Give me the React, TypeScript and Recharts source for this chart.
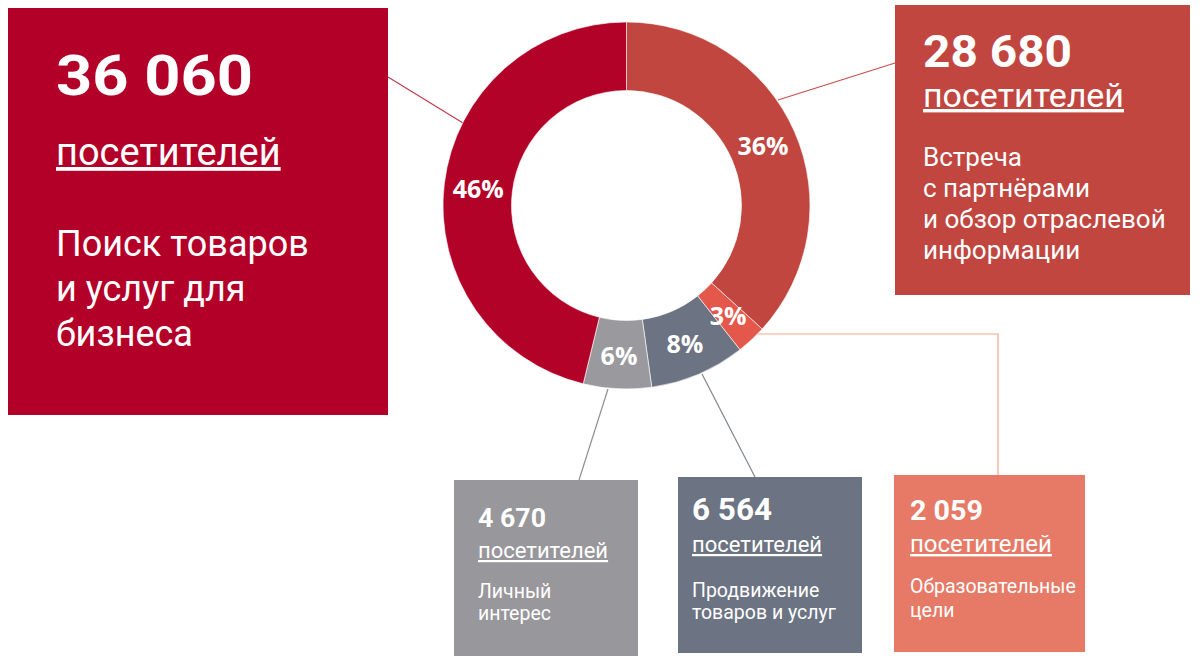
import React from 'react';
import { PieChart, Pie, Cell, Customized } from 'recharts';

// ---- data ----
const CATEGORIES = [
  'Встреча с партнёрами и обзор отраслевой информации',
  'Образовательные цели',
  'Продвижение товаров и услуг',
  'Личный интерес',
  'Поиск товаров и услуг для бизнеса',
];
const VISITORS = [28680, 2059, 6564, 4670, 36060];
const PERCENT_LABELS = ['36%', '3%', '8%', '6%', '46%'];
const UNIT = 'посетителей';
const DESCRIPTION_LINES = [
  ['Встреча', 'с партнёрами', 'и обзор отраслевой', 'информации'],
  ['Образовательные', 'цели'],
  ['Продвижение', 'товаров и услуг'],
  ['Личный', 'интерес'],
  ['Поиск товаров', 'и услуг для', 'бизнеса'],
];
const SLICE_COLORS = ['#c0463f', '#e4574b', '#6c7383', '#9a999e', '#b30228'];

const data = CATEGORIES.map((name, i) => ({ name, value: VISITORS[i], label: PERCENT_LABELS[i] }));

const fmt = (v: number) => String(v).replace(/\B(?=(\d{3})+(?!\d))/g, ' ');

// ---- layout of annotation boxes (same index order as data) ----
const BOXES = [
  { x: 895, y: 5, w: 295, h: 290, fill: '#c0463f', tx: 923, numY: 67, numSize: 45, numLen: 149, unitY: 107, unitSize: 34, descY: 166, descSize: 26, descLH: 31 },
  { x: 894, y: 475, w: 191, h: 177, fill: '#e67a66', tx: 910, numY: 520, numSize: 27, numLen: 73, unitY: 552, unitSize: 24, descY: 593, descSize: 19.5, descLH: 24 },
  { x: 678, y: 477, w: 184, h: 176, fill: '#6c7382', tx: 692, numY: 520, numSize: 31, numLen: 80, unitY: 552, unitSize: 22, descY: 597, descSize: 19.5, descLH: 22 },
  { x: 454, y: 480, w: 184, h: 176, fill: '#98979b', tx: 478, numY: 527, numSize: 26, numLen: 68, unitY: 558, unitSize: 22, descY: 598, descSize: 19.5, descLH: 22 },
  { x: 8, y: 8, w: 380, h: 407, fill: '#b30028', tx: 56, numY: 95, numSize: 56, numLen: 197, unitY: 165, unitSize: 38, descY: 256, descSize: 36, descLH: 45 },
];

const CONNECTORS = [
  { points: '778,100 895,63', stroke: '#c7504a' },
  { points: '757,334 998,334 998,475', stroke: '#f5a58a' },
  { points: '702,374 755,477', stroke: '#80848e' },
  { points: '608,389 579,480', stroke: '#8e8e94' },
  { points: '388,77 463,123', stroke: '#c23b4f' },
];

const FONT = 'Roboto, "Noto Sans", sans-serif';

const Annotations = () => (
  <g>
    {CONNECTORS.map((c, i) => (
      <polyline key={`c${i}`} points={c.points} fill="none" stroke={c.stroke} strokeWidth={1.2} />
    ))}
    {BOXES.map((b, i) => (
      <g key={`b${i}`} fontFamily={FONT} fill="#ffffff">
        <rect x={b.x} y={b.y} width={b.w} height={b.h} fill={b.fill} />
        <text x={b.tx} y={b.numY} fontSize={b.numSize} fontWeight={700} textLength={b.numLen} lengthAdjust="spacingAndGlyphs">
          {fmt(VISITORS[i])}
        </text>
        <text x={b.tx} y={b.unitY} fontSize={b.unitSize} style={{ textDecoration: 'underline' }}>
          {UNIT}
        </text>
        {DESCRIPTION_LINES[i].map((line, j) => (
          <text key={j} x={b.tx} y={b.descY + j * b.descLH} fontSize={b.descSize}>
            {line}
          </text>
        ))}
      </g>
    ))}
  </g>
);

const RAD = Math.PI / 180;
const renderLabel = (props: any) => {
  const { cx, cy, midAngle, innerRadius, outerRadius, index } = props;
  const r = (innerRadius + outerRadius) / 2;
  const x = cx + r * Math.cos(-midAngle * RAD);
  const y = cy + r * Math.sin(-midAngle * RAD);
  return (
    <text
      x={x}
      y={y}
      fill="#ffffff"
      textAnchor="middle"
      dominantBaseline="central"
      fontFamily='"Open Sans", sans-serif'
      fontWeight={700}
      fontSize={25}
    >
      {PERCENT_LABELS[index]}
    </text>
  );
};

export default function App() {
  return (
    <div style={{ position: 'absolute', left: 0, top: 0, width: 1200, height: 660, background: '#ffffff' }}>
      <PieChart width={1200} height={660} margin={{ top: 0, right: 0, bottom: 0, left: 0 }}>
        <Customized component={Annotations} />
        <Pie
          data={data}
          dataKey="value"
          nameKey="name"
          cx={626.5}
          cy={205.5}
          innerRadius={115}
          outerRadius={183.5}
          startAngle={90}
          endAngle={-270}
          stroke="#ffffff"
          strokeWidth={0.6}
          label={renderLabel}
          labelLine={false}
          isAnimationActive={false}
        >
          {data.map((d, i) => (
            <Cell key={d.name} fill={SLICE_COLORS[i]} />
          ))}
        </Pie>
      </PieChart>
    </div>
  );
}
